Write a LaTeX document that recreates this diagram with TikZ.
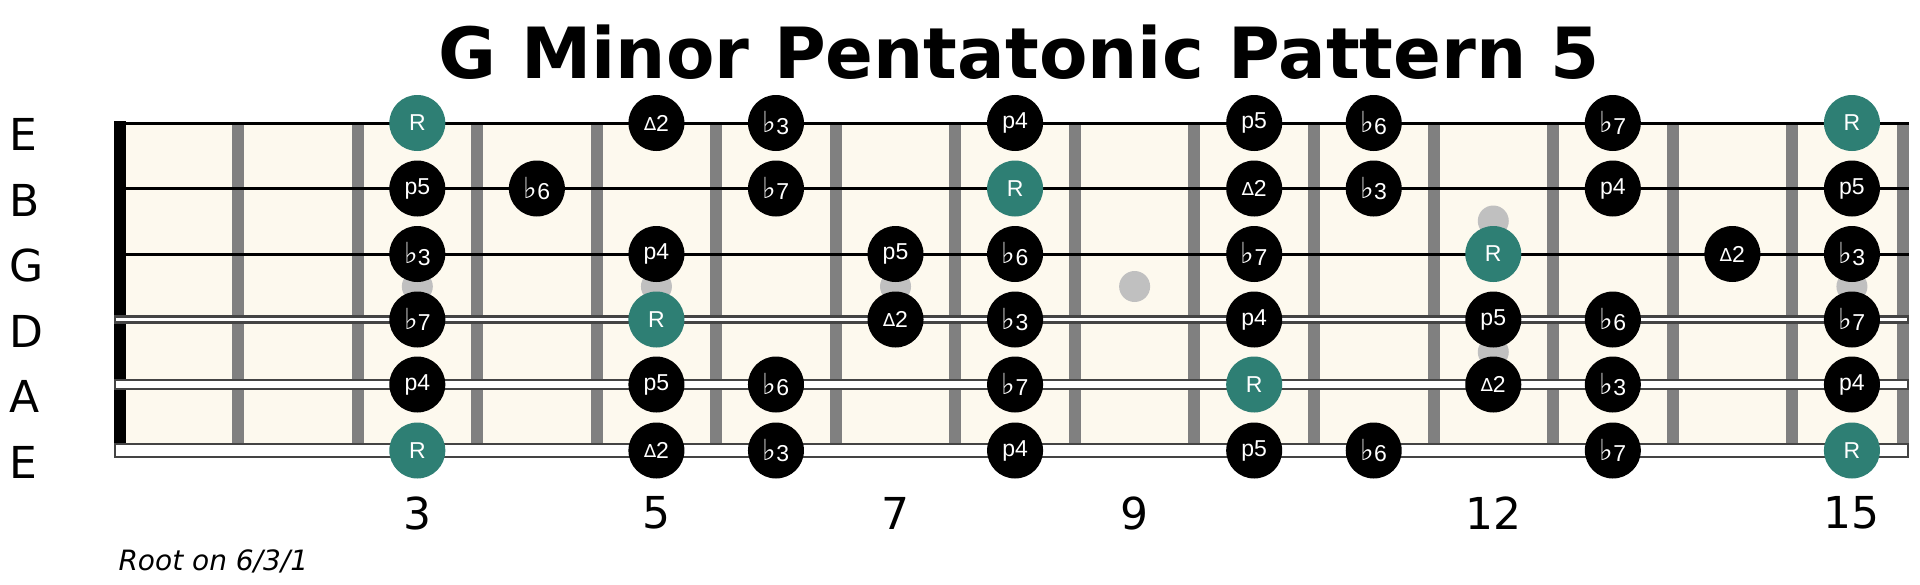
\documentclass[tikz,border=0pt]{standalone}
\usepackage{fontspec}
\setmainfont{DejaVu Sans}
\newfontfamily\notefont{Liberation Sans}
\newfontfamily\symfont{DejaVu Sans}
\definecolor{rootc}{HTML}{2E7F74}
\definecolor{boardc}{HTML}{FDF9EE}
\definecolor{fretc}{HTML}{808080}
\definecolor{inlayc}{HTML}{C0C0C0}
\definecolor{woundc}{HTML}{444444}
\newcommand{\fl}{{\symfont\fontsize{29}{29}\selectfont\raisebox{1.5pt}{♭}}}
\newcommand{\dl}{{\symfont\fontsize{18}{18}\selectfont\raisebox{1pt}{∆}}}
\def\notetxtaux#1#2\relax{\if F#1\fl#2\else\if D#1\dl#2\else#1#2\fi\fi}
\newcommand{\notetxt}[1]{\expandafter\notetxtaux#1\relax}
\begin{document}
\begin{tikzpicture}[x=1pt,y=-1pt,
  note/.style={circle, fill=black, minimum size=56pt, inner sep=0pt, text=white, font=\notefont\fontsize{23}{23}\selectfont},
  rootnote/.style={note, fill=rootc},
  inlay/.style={circle, fill=inlayc, minimum size=31pt, inner sep=0pt},
  strlab/.style={font=\fontsize{44}{44}\selectfont, anchor=west},
  fretlab/.style={font=\fontsize{44}{44}\selectfont},
  plainstring/.style={line width=3pt, black},
  woundstring/.style={fill=white, draw=woundc, line width=2.5pt}]
\useasboundingbox (0,0) rectangle (1920,584);
% title
\node[font=\bfseries\fontsize{70.6}{70.6}\selectfont] (title) at (1019.5,52) {G Minor Pentatonic Pattern 5};
% board
\fill[boardc] (120,123) rectangle (1909,451);
% frets
\foreach \n in {1,...,14} {
  \pgfmathsetmacro{\xx}{238+(\n-1)*119.55}
  \fill[fretc] (\xx-6,123) rectangle (\xx+6,451);
}
\fill[fretc] (1897,123) rectangle (1909,451);
% nut
\fill[black] (114,121) rectangle (126,457);
% inlays
\foreach \n/\yy [count=\i] in {3/286.5,5/286.5,7/286.5,9/286.5,12/221,12/352,15/286.5} {
  \pgfmathsetmacro{\xx}{238+(\n-1.5)*119.55}
  \node[inlay] (dot\i) at (\xx,\yy) {};
}
% strings
\coordinate (s1l) at (114,123); \coordinate (s1r) at (1909,123);
\coordinate (s2l) at (114,188.5); \coordinate (s2r) at (1909,188.5);
\coordinate (s3l) at (114,254); \coordinate (s3r) at (1909,254);
\draw[plainstring] (s1l) -- (s1r);
\draw[plainstring] (s2l) -- (s2r);
\draw[plainstring] (s3l) -- (s3r);
\draw[woundstring] (115,316.5) rectangle (1908,322.5);
\draw[woundstring] (115,380) rectangle (1908,389);
\draw[woundstring] (115,444) rectangle (1908,457);
% string labels
\foreach \s/\yy [count=\i] in {E/134,B/200,G/265,D/331,A/396,E/462} {
  \node[strlab] (lab\i) at (6,\yy) {\s};
}
% fret numbers
\foreach \n in {3,5,7,9,12,15} {
  \pgfmathsetmacro{\xx}{238+(\n-1.5)*119.55}
  \node[fretlab] (fn\n) at (\xx,513) {\n};
}
% notes
\foreach \st/\yy in {1/123,2/188.5,3/254,4/319.5,5/384.5,6/450.5} {
  \ifcase\st\or
    \def\lst{3/R,5/D2,6/F3,8/p4,10/p5,11/F6,13/F7,15/R}\or
    \def\lst{3/p5,4/F6,6/F7,8/R,10/D2,11/F3,13/p4,15/p5}\or
    \def\lst{3/F3,5/p4,7/p5,8/F6,10/F7,12/R,14/D2,15/F3}\or
    \def\lst{3/F7,5/R,7/D2,8/F3,10/p4,12/p5,13/F6,15/F7}\or
    \def\lst{3/p4,5/p5,6/F6,8/F7,10/R,12/D2,13/F3,15/p4}\or
    \def\lst{3/R,5/D2,6/F3,8/p4,10/p5,11/F6,13/F7,15/R}\fi
  \foreach \f/\t in \lst {
    \pgfmathsetmacro{\xx}{238+(\f-1.5)*119.55}
    \if R\t
      \node[rootnote] (n\st-\f) at (\xx,\yy) {R};
    \else
      \node[note] (n\st-\f) at (\xx,\yy) {\notetxt{\t}};
    \fi
  }
}
% caption
\node[font=\itshape\fontsize{28}{28}\selectfont, anchor=west] (cap) at (115,561) {Root on 6/3/1};
\end{tikzpicture}
\end{document}
